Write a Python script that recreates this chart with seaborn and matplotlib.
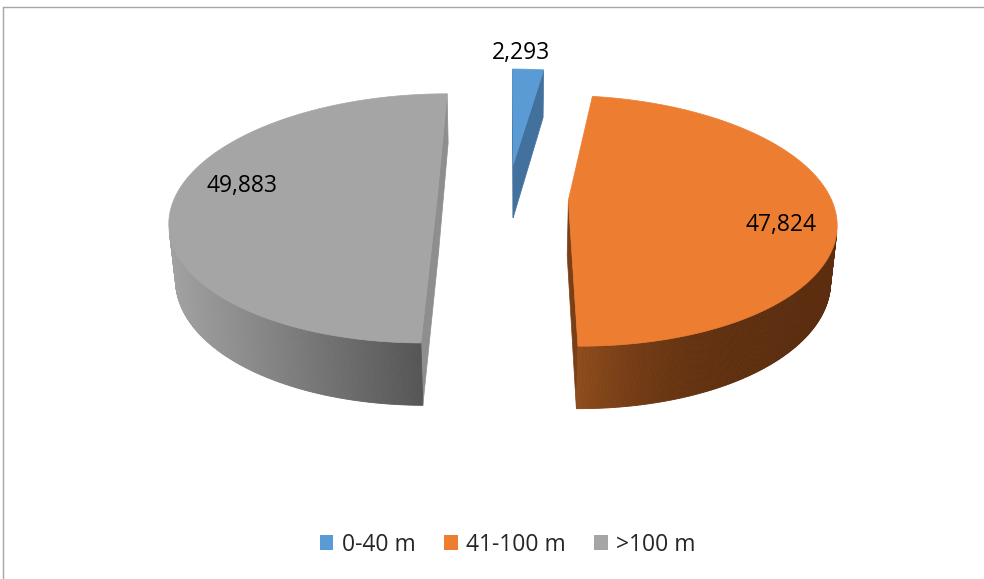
import numpy as np
import matplotlib
matplotlib.use("Agg")
import matplotlib.pyplot as plt
import seaborn as sns
from matplotlib.patches import Polygon, Patch
from matplotlib.collections import PolyCollection
from matplotlib.lines import Line2D
from matplotlib.colors import to_rgb

# ---- data ----
categories = ["0-40 m", "41-100 m", ">100 m"]
values = [2293, 47824, 49883]
value_labels = ["2,293", "47,824", "49,883"]

# ---- style ----
top_colors = ["#5B9BD5", "#ED7D31", "#A5A5A5"]
side_light = ["#4A80BA", "#8F4C1C", "#A2A2A2"]
side_dark = ["#3A6A9E", "#5C2E0F", "#565656"]
side_gamma = [1.0, 3.0, 1.0]
radial_colors = ["#41719C", "#7A3F16", "#8E8E8E"]
explode = [0.29, 0.23, 0.27]
label_radius = [1.0, 0.80, 0.765]
label_shift = [0.0, -10.0, -7.0]

sns.set_theme(style="white")
plt.rcParams['font.family'] = ['Open Sans', 'DejaVu Sans']

fig = plt.figure(figsize=(9.84, 5.79), dpi=100)
ax = fig.add_axes([0, 0, 1, 1])
ax.set_xlim(-1.8955, 1.7761)
ax.set_ylim(-1.4216, 0.7388)
ax.set_aspect('equal')
ax.axis('off')

phi = np.radians(26.9)
L = 5.42
thick = 0.235
xscale = 0.9795
cam = np.array([0.0, -L * np.cos(phi), L * np.sin(phi)])


def proj(X, Y, Z):
    w = Y * np.cos(phi) - Z * np.sin(phi)
    v = Z * np.cos(phi) + Y * np.sin(phi)
    s = L / (L + w)
    return X * s * xscale, v * s


def visible(normal, point):
    return np.dot(normal, cam - point) > 0


vals = np.array(values, dtype=float)
fracs = vals / vals.sum()
starts = 90 - 360 * np.concatenate([[0], np.cumsum(fracs)[:-1]])

for i in range(len(values)):
    hi = np.radians(starts[i])
    lo = np.radians(starts[i] - 360 * fracs[i])
    mid = (lo + hi) / 2
    ox, oy = explode[i] * np.cos(mid), explode[i] * np.sin(mid)

    # radial faces
    for ang, nrm in ((lo, (np.sin(lo), -np.cos(lo), 0)), (hi, (-np.sin(hi), np.cos(hi), 0))):
        px, py = ox + np.cos(ang), oy + np.sin(ang)
        centre = np.array([(ox + px) / 2, (oy + py) / 2, -thick / 2])
        if visible(np.array(nrm), centre):
            X = np.array([ox, px, px, ox])
            Y = np.array([oy, py, py, oy])
            Z = np.array([0, 0, -thick, -thick])
            sx, sy = proj(X, Y, Z)
            ax.add_patch(Polygon(np.column_stack([sx, sy]), closed=True,
                                 facecolor=radial_colors[i], edgecolor=radial_colors[i],
                                 lw=0.5))

    # outer side
    th = np.linspace(lo, hi, 400)
    quads, xs = [], []
    for a, b in zip(th[:-1], th[1:]):
        m = (a + b) / 2
        p = np.array([ox + np.cos(m), oy + np.sin(m), -thick / 2])
        if visible(np.array([np.cos(m), np.sin(m), 0]), p):
            X = np.array([ox + np.cos(a), ox + np.cos(b), ox + np.cos(b), ox + np.cos(a)])
            Y = np.array([oy + np.sin(a), oy + np.sin(b), oy + np.sin(b), oy + np.sin(a)])
            Z = np.array([0, 0, -thick, -thick])
            sx, sy = proj(X, Y, Z)
            quads.append(np.column_stack([sx, sy]))
            xs.append(sx.mean())
    if quads:
        xs = np.array(xs)
        u = (xs - xs.min()) / max(xs.max() - xs.min(), 1e-9)
        c1, c2 = np.array(to_rgb(side_light[i])), np.array(to_rgb(side_dark[i]))
        t = 1 - (1 - u) ** side_gamma[i]
        cols = [tuple(c1 + (c2 - c1) * tt) for tt in t]
        ax.add_collection(PolyCollection(quads, facecolors=cols, edgecolors=cols, linewidths=0.6))

    # top face
    X = np.concatenate([[ox], ox + np.cos(th)])
    Y = np.concatenate([[oy], oy + np.sin(th)])
    sx, sy = proj(X, Y, np.zeros_like(X))
    ax.add_patch(Polygon(np.column_stack([sx, sy]), closed=True,
                         facecolor=top_colors[i], edgecolor=top_colors[i], lw=0.5))

    # label
    la = mid + np.radians(label_shift[i])
    r = label_radius[i]
    lx, ly = proj(ox + r * np.cos(la), oy + r * np.sin(la), 0.0)
    if r >= 1.0:
        ax.annotate(value_labels[i], (lx, ly), xytext=(-5, 12), textcoords='offset points',
                    ha='center', va='center', fontsize=16.5, color='black')
    else:
        ax.text(lx, ly, value_labels[i], ha='center', va='center', fontsize=16.5, color='black')

handles = [Patch(facecolor=c, edgecolor='none') for c in top_colors]
fig.legend(handles, categories, loc='center', bbox_to_anchor=(0.516, 0.059), ncol=3,
           frameon=False, fontsize=16.5, handlelength=0.6, handleheight=0.6,
           handletextpad=0.36, columnspacing=1.25)

fig.add_artist(Line2D([3 / 984, 1], [1 - 7 / 579, 1 - 7 / 579], transform=fig.transFigure,
                      color='#A6A6A6', lw=1))
fig.add_artist(Line2D([3 / 984, 3 / 984], [0, 1 - 7 / 579], transform=fig.transFigure,
                      color='#A6A6A6', lw=1))

fig.savefig("out.png", dpi=100)
